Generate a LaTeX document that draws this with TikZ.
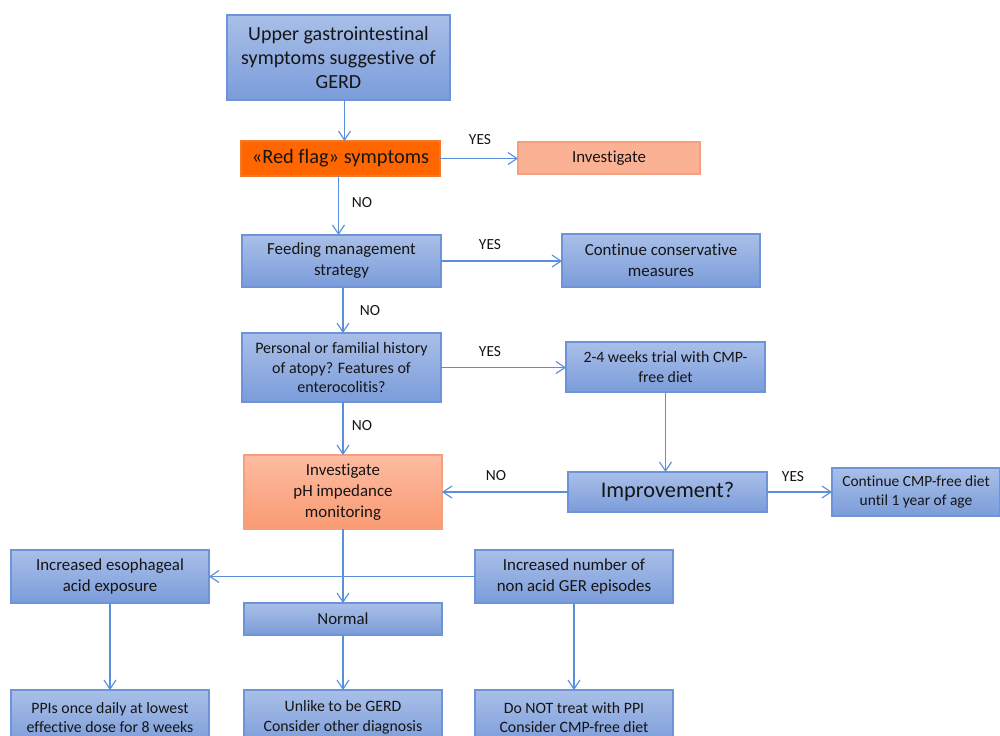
\documentclass[tikz,border=0pt]{standalone}
\usepackage{fontspec}
\setmainfont{Carlito}[Ligatures=NoCommon]
\usetikzlibrary{arrows.meta}
\definecolor{bluetop}{HTML}{A9BFE8}
\definecolor{bluebot}{HTML}{7B9CDA}
\definecolor{blueline}{HTML}{6F93D8}
\definecolor{arrowcol}{HTML}{5B8FDB}
\definecolor{saltop}{HTML}{FDBCA2}
\definecolor{salbot}{HTML}{F99A72}
\definecolor{salflat}{HTML}{FBB294}
\definecolor{salline}{HTML}{F4A07E}
\definecolor{redfill}{HTML}{FF6600}
\definecolor{redline}{HTML}{EE7A2A}
\definecolor{txt}{HTML}{151515}
\begin{document}
\begin{tikzpicture}[x=0.02cm,y=-0.02cm,
  sz/.style 2 args={minimum width=#1*0.02cm, minimum height=#2*0.02cm},
  basebox/.style={inner sep=0pt, outer sep=0pt, align=center, text=txt, line width=0.6pt,
    font=\fontsize{9.6}{11.9}\selectfont},
  bbox/.style={basebox, draw=blueline, top color=bluetop, bottom color=bluebot},
  salbox/.style={basebox, draw=salline, top color=saltop, bottom color=salbot},
  salflatbox/.style={basebox, draw=salline, fill=salflat},
  redbox/.style={basebox, draw=redline, fill=redfill},
  arr/.style={draw=arrowcol, line width=0.65pt, -{Straight Barb[length=1.8mm,width=2.4mm]}},
  lbl/.style={inner sep=0pt, text=txt, font=\fontsize{8.8}{10}\selectfont}]
\useasboundingbox (0,0) rectangle (1000,735);
\clip (0,0) rectangle (1000,735);

% nodes
\node[bbox, sz={223}{85}, font=\fontsize{11.4}{13.6}\selectfont] (top) at (338.5,57.5) {Upper gastrointestinal\\symptoms suggestive of\\GERD};
\node[redbox, sz={199}{35}, font=\fontsize{11.6}{13}\selectfont] (red) at (340.5,158.5) {«Red flag» symptoms};
\node[salflatbox, sz={182}{32}] (inv1) at (609,158) {Investigate};
\node[bbox, sz={199}{52}] (feed) at (341.5,261) {Feeding management\\strategy};
\node[bbox, sz={198}{53}] (cont) at (661,260.5) {Continue conservative\\measures};
\node[bbox, sz={199}{69}, font=\fontsize{9.1}{11}\selectfont] (pers) at (341.5,367.5) {Personal or familial history\\of atopy? Features of\\enterocolitis?};
\node[bbox, sz={199}{50}, font=\fontsize{9}{10.9}\selectfont] (trial) at (665.5,367) {2-4 weeks trial with CMP-\\free diet};
\node[bbox, sz={199}{40}, font=\fontsize{12.7}{14}\selectfont] (impr) at (667.5,492) {Improvement?};
\node[bbox, sz={168}{48}, font=\fontsize{8.8}{10.8}\selectfont] (cmp) at (916,492) {Continue CMP-free diet\\until 1 year of age};
\node[salbox, sz={198}{74}] (ph) at (343,492) {Investigate\\pH impedance\\monitoring};
\node[bbox, sz={198}{53}] (eso) at (110,576.5) {Increased esophageal\\acid exposure};
\node[bbox, sz={198}{32}] (norm) at (343,619) {Normal};
\node[bbox, sz={198}{53}] (num) at (574,576.5) {Increased number of\\non acid GER episodes};
\node[bbox, sz={198}{55}, font=\fontsize{9}{11.2}\selectfont] (ppi) at (110,717.5) {PPIs once daily at lowest\\effective dose for 8 weeks};
\node[bbox, sz={198}{55}, font=\fontsize{9}{11.2}\selectfont] (unl) at (343,717.5) {Unlike to be GERD\\Consider other diagnosis};
\node[bbox, sz={198}{55}, font=\fontsize{9}{11.2}\selectfont] (dont) at (574,717.5) {Do NOT treat with PPI\\Consider CMP-free diet};

% connectors
\draw[arr] (top.south -| red.north) ++(4,0) coordinate (t1) -- (t1 |- red.north);
\draw[arr] (red.east) -- (inv1.west |- red.east);
\draw[arr] (red.south) ++(-2,0) coordinate (r1) -- (r1 |- feed.north);
\draw[arr] (feed.east) -- (cont.west |- feed.east);
\draw[arr] (feed.south) ++(1.5,0) coordinate (f1) -- (f1 |- pers.north);
\draw[arr] (pers.east) -- (trial.west |- pers.east);
\draw[arr] (pers.south) ++(1.5,0) coordinate (p1) -- (p1 |- ph.north);
\draw[arr] (trial.south) -- (trial.south |- impr.north);
\draw[arr] (impr.west) -- (ph.east);
\draw[arr] (impr.east) -- (cmp.west);
\draw[arr] (num.west) -- (eso.east);
\draw[arr] (ph.south) -- (norm.north);
\draw[arr] (eso.south) -- (ppi.north);
\draw[arr] (norm.south) -- (unl.north);
\draw[arr] (num.south) -- (dont.north);

% labels
\node[lbl] (y1) at (480,140) {YES};
\node[lbl] (n1) at (362,203) {NO};
\node[lbl] (y2) at (490,245) {YES};
\node[lbl] (n2) at (370,311) {NO};
\node[lbl] (y3) at (490,352) {YES};
\node[lbl] (n3) at (362,426) {NO};
\node[lbl] (n4) at (496,476) {NO};
\node[lbl] (y4) at (793,477) {YES};
\end{tikzpicture}
\end{document}
